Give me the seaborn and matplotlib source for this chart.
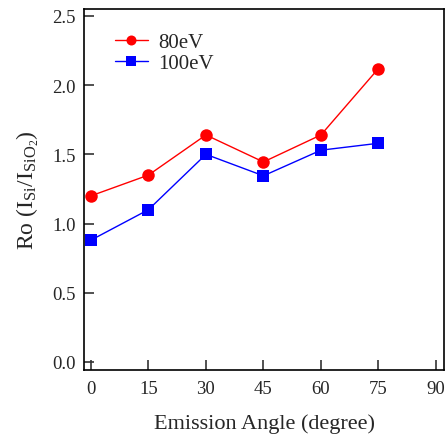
import matplotlib
matplotlib.use("Agg")
import matplotlib.pyplot as plt
import seaborn as sns
import pandas as pd

angles = [0, 15, 30, 45, 60, 75]
ev80 = [1.20, 1.35, 1.64, 1.445, 1.64, 2.12]
ev100 = [0.88, 1.10, 1.50, 1.345, 1.53, 1.58]
xticks = [0, 15, 30, 45, 60, 75, 90]
yticks = [0.0, 0.5, 1.0, 1.5, 2.0, 2.5]

sns.set_theme(style="white")
plt.rcParams['font.family'] = ['Liberation Serif', 'DejaVu Serif']
plt.rcParams['mathtext.fontset'] = 'custom'
plt.rcParams['mathtext.rm'] = 'Liberation Serif'
plt.rcParams['mathtext.it'] = 'Liberation Serif:italic'

fig = plt.figure(figsize=(4.48, 4.39), dpi=100)
ax = fig.add_axes([84/448, 1-371/439, 360/448, 361/439])

df = pd.DataFrame({"angle": angles * 2,
                   "val": ev80 + ev100,
                   "series": ["80eV"] * 6 + ["100eV"] * 6})

sns.lineplot(data=df, x="angle", y="val", hue="series", style="series",
             markers={"80eV": "o", "100eV": "s"}, dashes=False,
             palette={"80eV": "#ff0000", "100eV": "#0000ff"},
             markersize=9, markeredgewidth=0, linewidth=1.0, ax=ax)

ax.set_xlim(-1.8, 92.1)
ax.set_ylim(-0.058, 2.55)
ax.set_xticks(xticks)
ax.set_xticklabels([str(t) for t in xticks])
ax.set_yticks(yticks)
ax.set_yticklabels([f"{t:.1f}" for t in yticks])
ax.tick_params(axis='both', direction='in', length=7, width=1.2, labelsize=13.5,
               color='#333333', left=True, bottom=True, top=False, right=False)
ax.tick_params(axis='x', pad=7)
ax.tick_params(axis='y', pad=6)
for s in ax.spines.values():
    s.set_color('black')
    s.set_linewidth(1.2)

ax.set_xlabel("Emission Angle (degree)", fontsize=16, labelpad=12)
ax.set_ylabel(r"Ro (I$_{\mathrm{Si}}$/I$_{\mathrm{SiO_2}}$)", fontsize=17, labelpad=8)

leg = ax.legend(loc='upper left', bbox_to_anchor=(0.045, 0.975), frameon=False,
                fontsize=15, handlelength=1.6, handletextpad=0.5,
                labelspacing=0.05, borderaxespad=0.3, markerscale=0.8)

fig.savefig("out.png", dpi=100)
